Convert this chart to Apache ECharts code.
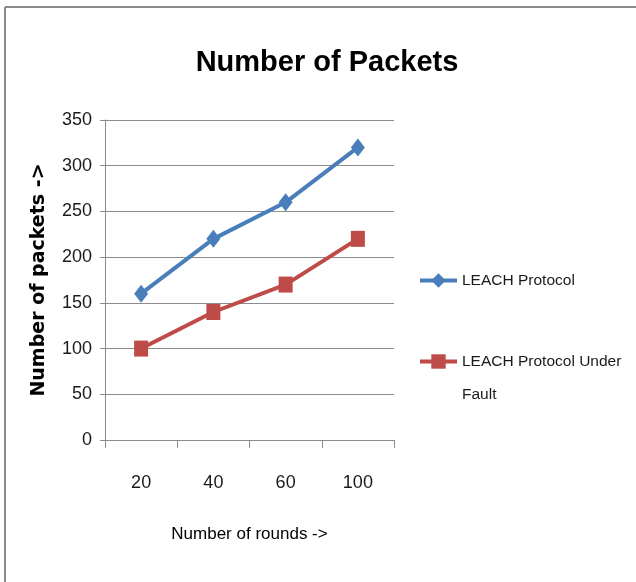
<!DOCTYPE html>
<html>
<head>
<meta charset="utf-8">
<script src="https://cdn.jsdelivr.net/npm/echarts@6/dist/echarts.min.js"></script>
<style>
  html, body { margin: 0; padding: 0; background: #fff; }
  #chart { width: 636px; height: 582px; }
</style>
</head>
<body>
<div id="chart"></div>
<script>
const categories = ['20', '40', '60', '100'];
const leachValues = [160, 220, 260, 320];
const faultValues = [100, 140, 170, 220];
const seriesNames = ['LEACH Protocol', 'LEACH Protocol Under Fault'];
const titleText = 'Number of Packets';
const xAxisTitle = 'Number of rounds ->';
const yAxisTitle = 'Number of packets ->';

const FONT = "'Liberation Sans', Arial, sans-serif";
const chart = echarts.init(document.getElementById('chart'));
chart.setOption({
  backgroundColor: '#ffffff',
  animation: false,
  title: {
    text: titleText,
    left: 322,
    top: 43,
    textAlign: 'center',
    textStyle: { fontFamily: FONT, fontWeight: 'bold', fontSize: 29, color: '#000' }
  },
  graphic: [
    { type: 'line', shape: { x1: 5, y1: 7, x2: 636, y2: 7 }, style: { stroke: '#8c8c8c', lineWidth: 2 } },
    { type: 'line', shape: { x1: 5, y1: 7, x2: 5, y2: 582 }, style: { stroke: '#8c8c8c', lineWidth: 2 } }
  ],
  legend: {
    orient: 'vertical',
    left: 413,
    top: 259,
    itemWidth: 37,
    itemHeight: 18,
    itemGap: 15,
    lineStyle: { width: 4 },
    formatter: function (name) {
      return name === seriesNames[1] ? '\nLEACH Protocol Under\nFault' : name;
    },
    textStyle: { fontFamily: FONT, fontSize: 15.5, color: '#1a1a1a', lineHeight: 33 },
    data: seriesNames
  },
  grid: { left: 105, right: 242, top: 120, bottom: 142 },
  xAxis: {
    type: 'category',
    data: categories,
    boundaryGap: true,
    name: xAxisTitle,
    nameLocation: 'middle',
    nameGap: 86,
    nameTextStyle: { fontFamily: FONT, fontSize: 17, color: '#000' },
    axisLine: { lineStyle: { color: '#8c8c8c', width: 1 } },
    axisTick: { show: true, length: 8, lineStyle: { color: '#8c8c8c' } },
    axisLabel: { fontFamily: FONT, fontSize: 18, color: '#1a1a1a', margin: 34 }
  },
  yAxis: {
    type: 'value',
    min: 0,
    max: 350,
    interval: 50,
    name: yAxisTitle,
    nameLocation: 'middle',
    nameGap: 56,
    nameTextStyle: { fontFamily: "'DejaVu Sans', sans-serif", fontWeight: 'bold', fontSize: 19, color: '#000' },
    axisLine: { show: true, lineStyle: { color: '#8c8c8c', width: 1 } },
    axisTick: { show: true, length: 5, lineStyle: { color: '#8c8c8c' } },
    axisLabel: { fontFamily: FONT, fontSize: 18, color: '#1a1a1a', margin: 13 },
    splitLine: { show: true, lineStyle: { color: '#8c8c8c', width: 1 } }
  },
  series: [
    {
      name: seriesNames[0],
      type: 'line',
      data: leachValues,
      symbol: 'diamond',
      symbolSize: [14, 18],
      lineStyle: { color: '#4a7ebb', width: 4 },
      itemStyle: { color: '#4a7ebb' }
    },
    {
      name: seriesNames[1],
      type: 'line',
      data: faultValues,
      symbol: 'rect',
      symbolSize: [14, 16],
      lineStyle: { color: '#be4b48', width: 4 },
      itemStyle: { color: '#be4b48' }
    }
  ]
});
</script>
</body>
</html>
